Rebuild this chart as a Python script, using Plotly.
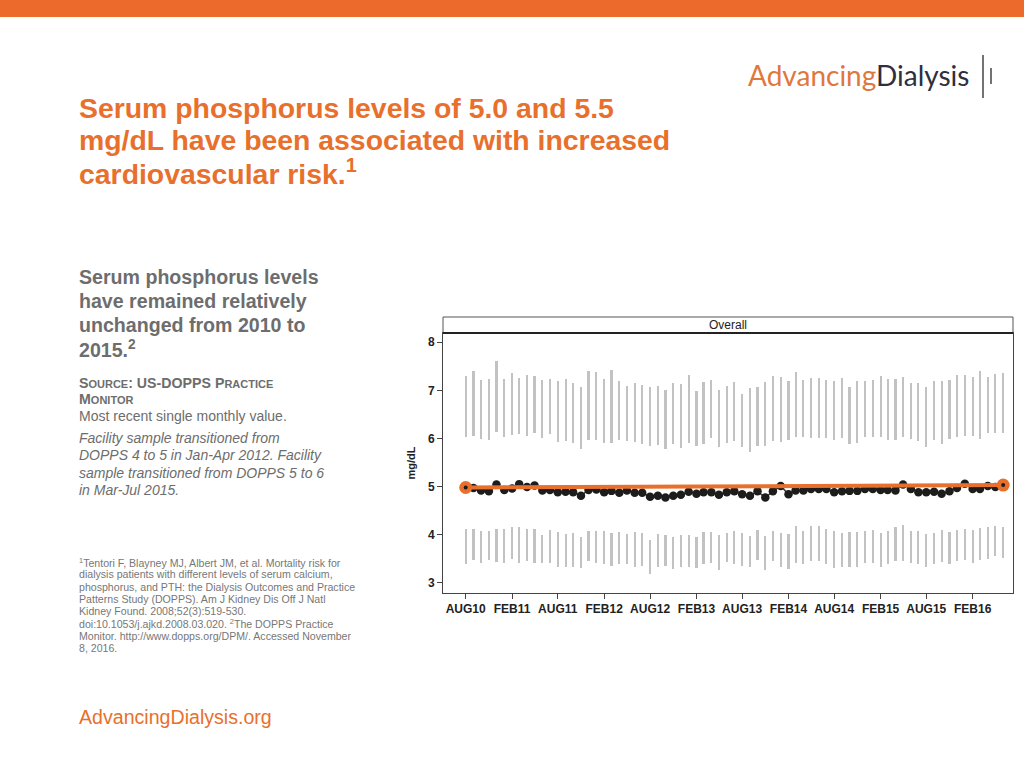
import pandas as pd
import plotly.graph_objects as go

# ---------------- data ----------------
months = pd.date_range("2010-08-01", periods=71, freq="MS")

upper_hi = [7.30, 7.40, 7.22, 7.24, 7.61, 7.23, 7.37, 7.26, 7.33, 7.30,
            7.22, 7.24, 7.19, 7.23, 7.15, 7.07, 7.40, 7.38, 7.24, 7.43,
            7.19, 7.09, 7.15, 7.11, 7.08, 7.10, 7.01, 7.15, 7.14, 7.32,
            6.99, 7.18, 7.22, 7.01, 7.10, 7.17, 6.92, 7.05, 7.08, 7.18,
            7.30, 7.28, 7.19, 7.38, 7.22, 7.26, 7.25, 7.22, 7.19, 7.26,
            7.08, 7.19, 7.19, 7.21, 7.29, 7.23, 7.23, 7.27, 7.16, 7.15,
            7.06, 7.19, 7.19, 7.21, 7.31, 7.31, 7.28, 7.40, 7.28, 7.35, 7.37]
upper_lo = [6.03, 6.06, 5.99, 5.97, 6.13, 6.04, 6.07, 6.10, 6.06, 6.11,
            6.00, 6.10, 5.92, 5.94, 5.91, 5.78, 5.97, 5.97, 5.91, 5.90,
            5.97, 5.94, 5.92, 5.88, 5.85, 5.86, 5.79, 5.88, 5.81, 5.90,
            5.84, 5.88, 6.01, 5.83, 5.90, 5.94, 5.82, 5.72, 5.84, 5.85,
            5.94, 5.92, 5.97, 6.03, 6.02, 6.01, 6.00, 6.01, 5.97, 6.00,
            5.88, 5.90, 6.04, 6.03, 6.04, 5.96, 5.96, 6.04, 5.99, 5.94,
            5.83, 5.97, 5.88, 5.99, 6.03, 6.06, 6.05, 5.99, 6.11, 6.12, 6.12]
lower_hi = [4.12, 4.12, 4.08, 4.08, 4.12, 4.12, 4.15, 4.15, 4.12, 4.12,
            4.00, 4.10, 4.05, 4.01, 4.03, 3.96, 4.08, 4.08, 4.07, 4.03,
            4.05, 4.01, 4.05, 4.03, 3.88, 4.01, 4.00, 3.96, 4.00, 4.00,
            3.96, 4.05, 4.05, 3.99, 4.03, 4.07, 4.03, 3.98, 4.10, 3.98,
            4.07, 4.03, 4.01, 4.17, 4.07, 4.17, 4.17, 4.12, 4.07, 4.03,
            4.05, 4.05, 4.08, 4.10, 4.04, 4.07, 4.15, 4.19, 4.08, 4.07,
            4.01, 4.03, 4.10, 4.05, 4.10, 4.12, 4.10, 4.13, 4.15, 4.18, 4.15]
lower_lo = [3.39, 3.47, 3.40, 3.47, 3.44, 3.42, 3.49, 3.42, 3.46, 3.42,
            3.42, 3.40, 3.32, 3.32, 3.33, 3.31, 3.46, 3.42, 3.39, 3.35,
            3.38, 3.39, 3.33, 3.35, 3.19, 3.33, 3.35, 3.28, 3.32, 3.33,
            3.31, 3.39, 3.42, 3.26, 3.44, 3.39, 3.35, 3.33, 3.47, 3.26,
            3.46, 3.32, 3.28, 3.42, 3.38, 3.46, 3.46, 3.39, 3.31, 3.33,
            3.33, 3.33, 3.40, 3.42, 3.33, 3.39, 3.46, 3.46, 3.40, 3.39,
            3.32, 3.39, 3.44, 3.39, 3.46, 3.47, 3.42, 3.47, 3.50, 3.56, 3.51]
center = [4.99, 4.97, 4.92, 4.90, 5.04, 4.93, 4.96, 5.05, 4.99, 5.02,
          4.92, 4.93, 4.88, 4.89, 4.88, 4.81, 4.93, 4.94, 4.88, 4.91,
          4.87, 4.92, 4.87, 4.87, 4.79, 4.81, 4.77, 4.81, 4.83, 4.89,
          4.85, 4.88, 4.88, 4.83, 4.88, 4.90, 4.84, 4.81, 4.90, 4.77,
          4.90, 5.01, 4.84, 4.92, 4.92, 4.95, 4.95, 4.95, 4.88, 4.90,
          4.91, 4.91, 4.95, 4.95, 4.93, 4.93, 4.92, 5.04, 4.95, 4.88,
          4.88, 4.89, 4.85, 4.90, 4.97, 5.06, 4.95, 4.95, 5.01, 4.99, 5.04]
trend_x = [months[0], months[-1]]
trend_y = [4.98, 5.03]

tick_dates = ["2010-08-01", "2011-02-01", "2011-08-01", "2012-02-01", "2012-08-01",
              "2013-02-01", "2013-08-01", "2014-02-01", "2014-08-01", "2015-02-01",
              "2015-08-01", "2016-02-01"]
tick_text = ["AUG10", "FEB11", "AUG11", "FEB12", "AUG12", "FEB13", "AUG13",
             "FEB14", "AUG14", "FEB15", "AUG15", "FEB16"]
y_ticks = [3, 4, 5, 6, 7, 8]

# ---------------- figure ----------------
W, H = 1024, 768
def px(x): return x / W
def py(y): return 1 - y / H

ORANGE = "#E8702C"
GRAY_BAR = "#C2C2C2"
BAR_W = 8.5 * 86400000

fig = go.Figure()
fig.add_trace(go.Bar(x=months, y=[h - l for h, l in zip(upper_hi, upper_lo)], base=upper_lo,
                     width=BAR_W, marker=dict(color=GRAY_BAR, line=dict(width=0)),
                     hoverinfo="skip", showlegend=False))
fig.add_trace(go.Bar(x=months, y=[h - l for h, l in zip(lower_hi, lower_lo)], base=lower_lo,
                     width=BAR_W, marker=dict(color=GRAY_BAR, line=dict(width=0)),
                     hoverinfo="skip", showlegend=False))
fig.add_trace(go.Scatter(x=months, y=center, mode="lines+markers",
                         line=dict(color="#3a3a3a", width=1.5),
                         marker=dict(color="#1c1c1c", size=8.5),
                         showlegend=False))
fig.add_trace(go.Scatter(x=trend_x, y=trend_y, mode="lines+markers",
                         line=dict(color=ORANGE, width=4),
                         marker=dict(color=ORANGE, size=13),
                         showlegend=False))
fig.add_trace(go.Scatter(x=trend_x, y=trend_y, mode="markers",
                         marker=dict(color="#1c1c1c", size=4),
                         showlegend=False))

axis_font = dict(family="Liberation Sans, Arial", size=12, color="#222222")
fig.update_layout(
    width=W, height=H, autosize=False,
    margin=dict(l=0, r=0, t=0, b=0),
    paper_bgcolor="white", plot_bgcolor="white",
    barmode="overlay", bargap=0,
    xaxis=dict(domain=[px(443), px(1013)], type="date",
               range=["2010-05-03", "2016-07-10"],
               tickvals=tick_dates, ticktext=[f"<b>{t}</b>" for t in tick_text],
               ticks="outside", ticklen=5, tickcolor="#444", tickwidth=1,
               showline=True, linecolor="#444", linewidth=1, mirror=True,
               showgrid=False, zeroline=False, tickfont=axis_font, tickangle=0),
    yaxis=dict(domain=[py(593), py(333)], range=[2.786, 8.193],
               tickvals=y_ticks, ticktext=[f"<b>{v}</b>" for v in y_ticks],
               ticks="outside", ticklen=5, tickcolor="#444", tickwidth=1,
               showline=True, linecolor="#444", linewidth=1, mirror=True,
               showgrid=False, zeroline=False, tickfont=axis_font,
               title=dict(text="<b>mg/dL</b>", standoff=10,
                          font=dict(family="Liberation Sans, Arial", size=11, color="#222"))),
)

shapes = [
    dict(type="rect", xref="paper", yref="paper", x0=0, x1=1, y0=py(17), y1=1,
         fillcolor="#EC6A2C", line=dict(width=0)),
    dict(type="rect", xref="paper", yref="paper", x0=px(443), x1=px(1013), y0=py(333), y1=py(317),
         fillcolor="white", line=dict(color="#555", width=1)),
    dict(type="line", xref="paper", yref="paper", x0=px(443), x1=px(1013), y0=py(333), y1=py(333),
         line=dict(color="#222", width=2)),
    dict(type="line", xref="paper", yref="paper", x0=px(983), x1=px(983), y0=py(55), y1=py(98),
         line=dict(color="#444", width=1.5)),
    dict(type="line", xref="paper", yref="paper", x0=px(991), x1=px(991), y0=py(68), y1=py(84),
         line=dict(color="#444", width=1.5)),
]
fig.update_layout(shapes=shapes)

ann = []
def text(x, y, s, size, color, family="Liberation Sans, Arial", xanchor="left"):
    ann.append(dict(x=px(x), y=py(y), xref="paper", yref="paper", text=s, showarrow=False,
                    xanchor=xanchor, yanchor="middle", align="left",
                    font=dict(family=family, size=size, color=color)))

TITLE_C = "#E8702C"
text(77, 108, "<b>Serum phosphorus levels of 5.0 and 5.5</b>", 28.4, TITLE_C)
text(77, 140, "<b>mg/dL have been associated with increased</b>", 28.4, TITLE_C)
text(77, 172, "<b>cardiovascular risk.<sup>1</sup></b>", 28.4, TITLE_C)

text(746, 75, "<span style='color:#E0783C'>Advancing</span><span style='color:#2E2F40'>Dialysis</span>",
     28, "#2E2F40", family="Lato")

SUB_C = "#6d6d6d"
for i, line in enumerate(["Serum phosphorus levels", "have remained relatively",
                          "unchanged from 2010 to", "2015.<sup>2</sup>"]):
    text(77, 277 + 24 * i, f"<b>{line}</b>", 19.6, SUB_C)

sc = "<b>S<span style='font-size:11px'>OURCE</span>: US-DOPPS P<span style='font-size:11px'>RACTICE</span></b>"
text(77, 383, sc, 14.2, SUB_C)
text(77, 399, "<b>M<span style='font-size:11px'>ONITOR</span></b>", 14.2, SUB_C)
text(77, 416, "Most recent single monthly value.", 14, SUB_C)
for i, line in enumerate(["Facility sample transitioned from",
                          "DOPPS 4 to 5 in Jan-Apr 2012. Facility",
                          "sample transitioned from DOPPS 5 to 6",
                          "in Mar-Jul 2015."]):
    text(77, 438 + 17.4 * i, f"<i>{line}</i>", 14, SUB_C)

foot = ["<sup>1</sup>Tentori F, Blayney MJ, Albert JM, et al. Mortality risk for",
        "dialysis patients with different levels of serum calcium,",
        "phosphorus, and PTH: the Dialysis Outcomes and Practice",
        "Patterns Study (DOPPS). Am J Kidney Dis Off J Natl",
        "Kidney Found. 2008;52(3):519-530.",
        "doi:10.1053/j.ajkd.2008.03.020. <sup>2</sup>The DOPPS Practice",
        "Monitor. http://www.dopps.org/DPM/. Accessed November",
        "8, 2016."]
for i, line in enumerate(foot):
    text(77, 562 + 12.3 * i, line, 10.6, "#777777")

text(77, 717, "AdvancingDialysis.org", 19.6, "#E8702C")
text(728, 325, "Overall", 12, "#222222", xanchor="center")

fig.update_layout(annotations=ann)
fig.write_html("out.html", config={"displayModeBar": False},
               post_script="document.body.style.margin='0';document.body.style.overflow='hidden';")
